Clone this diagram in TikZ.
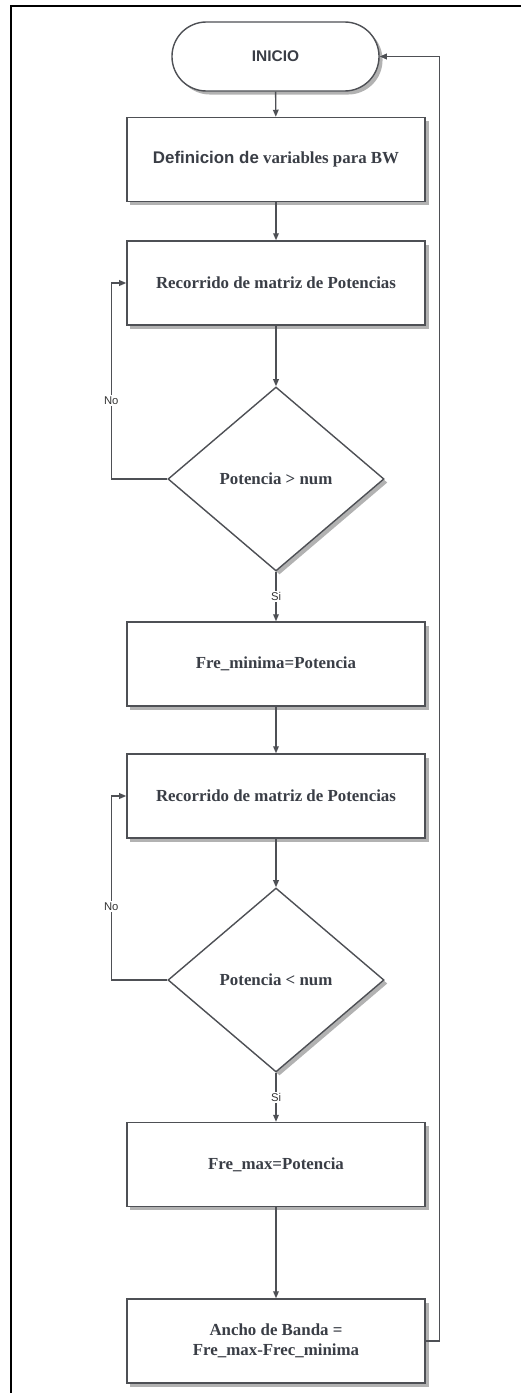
\documentclass[tikz,border=0pt]{standalone}
\usepackage{fontspec}
\setmainfont{Liberation Serif}
\newfontfamily\sansfont{Liberation Sans}
\usepackage{tikz}
\usetikzlibrary{calc,shapes.geometric,shadows,arrows.meta}
\definecolor{linegray}{HTML}{4E5055}
\definecolor{textgray}{HTML}{3A3E46}
\tikzset{
	sombra/.style={drop shadow={shadow xshift=2.5pt, shadow yshift=-2.5pt, opacity=0.3, fill=black}},
	proceso/.style={draw=linegray, line width=1pt, fill=white, sombra, minimum width=7.45cm, minimum height=2.1cm, text=textgray, font=\bfseries\fontsize{12}{14.5}\selectfont, align=center},
	decision/.style={diamond, draw=linegray, line width=1pt, fill=white, sombra, minimum width=5.4cm, minimum height=4.6cm, inner sep=0pt, text=textgray, font=\bfseries\fontsize{12}{14.5}\selectfont},
	terminal/.style={draw=linegray, line width=1pt, fill=white, sombra, rounded corners=0.86cm, minimum width=5.175cm, minimum height=1.725cm, text=textgray, font=\sansfont\bfseries\fontsize{11}{13}\selectfont},
	flecha/.style={draw=linegray, line width=1pt, -{Triangle[length=5pt, width=4pt]}},
	etiqueta/.style={fill=white, inner sep=1pt, text=black!80, font=\sansfont\fontsize{8}{9}\selectfont}
}

\begin{document}
\begin{tikzpicture}[x=0.025cm, y=-0.025cm]
			%%%%% START %%%%%
			
			\useasboundingbox (0, 0) rectangle (521, 1393);
			\draw[line width=1.4pt] (11, 1393) -- (11, 6) -- (521, 6);
			
			\node[terminal] (inicio) at (275.5, 56.5) {INICIO};
			\node[proceso] (defvar) at (276, 159.5) {{\sansfont Definicion de} variables para BW};
			\node[proceso] (rec1) at (276, 283) {Recorrido de matriz de Potencias};
			\node[decision] (dec1) at (276, 479) {Potencia > num};
			\node[proceso] (fmin) at (276, 664) {Fre\_minima=Potencia};
			
			\node[proceso] (rec2) at (276, 796) {Recorrido de matriz de Potencias};
			\node[decision] (dec2) at (276, 980) {Potencia < num};
			\node[proceso] (fmax) at (276, 1164.5) {Fre\_max=Potencia};
			\node[proceso] (ancho) at (276, 1341) {Ancho de Banda =\\Fre\_max-Frec\_minima};
			
			\draw[flecha] (inicio) -- (defvar);
			\draw[flecha] (defvar) -- (rec1);
			\draw[flecha] (rec1) -- (dec1);
			\draw[flecha] (dec1.west) -- ++(-56, 0) |- node[pos=0.2, etiqueta] {No} (rec1.west);
			\draw[flecha] (dec1.south) -- node[etiqueta] {Si} (fmin.north);
			
			\draw[flecha] (fmin) -- (rec2);
			\draw[flecha] (rec2) -- (dec2);
			\draw[flecha] (dec2.west) -- ++(-56, 0) |- node[pos=0.2, etiqueta] {No} (rec2.west);
			\draw[flecha] (dec2.south) -- node[etiqueta] {Si} (fmax.north);
			\draw[flecha] (fmax) -- (ancho);
			
			\draw[flecha] (ancho.east) -- ++(14, 0) |- (inicio.east);
			
			%%%%% END %%%%%
		\end{tikzpicture}
\end{document}
